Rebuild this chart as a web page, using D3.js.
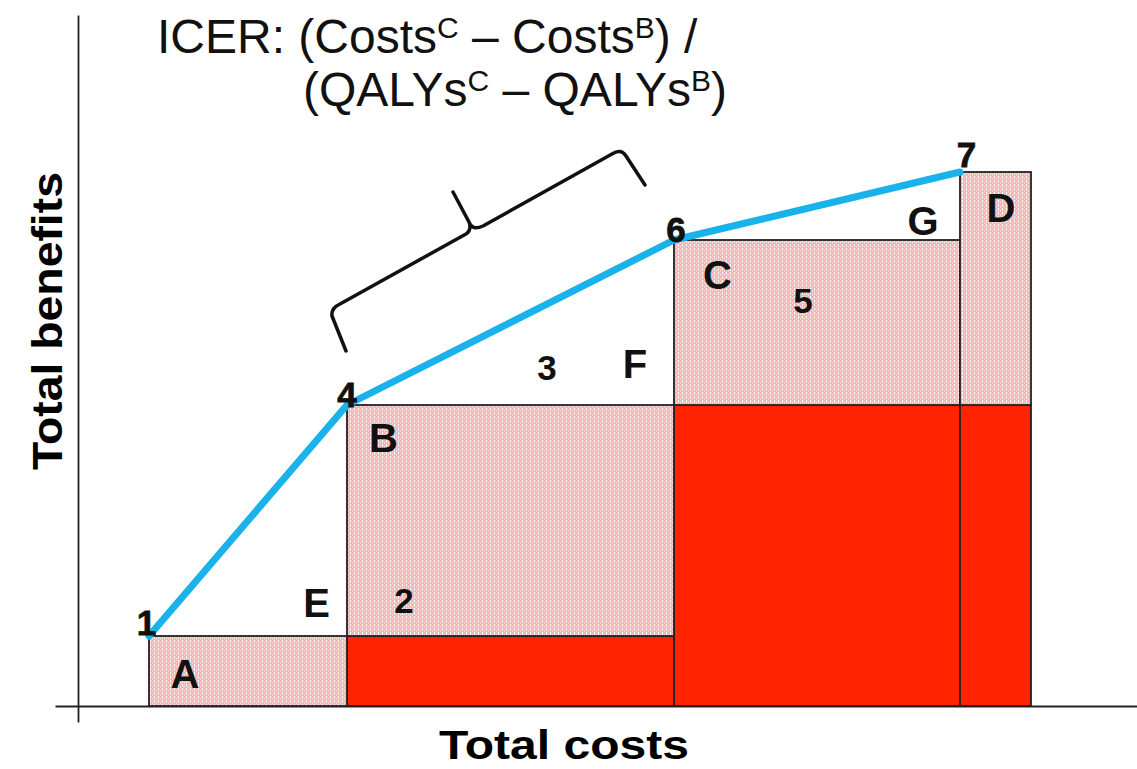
<!DOCTYPE html>
<html><head><meta charset="utf-8">
<script src="https://cdn.jsdelivr.net/npm/d3@7"></script>
<style>
body{margin:0;background:#fff}
svg{display:block}
text{font-family:Arial,"Liberation Sans",Helvetica,sans-serif}
</style>
</head><body><div id="chart"></div>
<script>
// ---- data (arbitrary cost / benefit units) ----
const frontierLabels = ["1", "4", "6", "7"];
const frontierCost = [7.1, 26.9, 59.6, 88.2];
const frontierBenefit = [7.0, 30.1, 46.6, 53.4];

const barStart = [7.1, 26.9, 59.6, 88.2];
const barEnd = [26.9, 59.6, 88.2, 95.3];
const barRedTop = [0, 7.0, 30.1, 30.1];
const barPinkTop = [7.0, 30.1, 46.6, 53.4];

const frontierLabelCost = [6.85, 26.9, 59.8, 88.85];
const frontierLabelBenefit = [7.1, 29.9, 46.4, 53.9];

const regionLabels = ["A", "E", "2", "B", "3", "F", "C", "5", "G", "D"];
const regionCost = [10.7, 23.85, 32.6, 30.55, 46.9, 55.7, 63.95, 72.5, 84.5, 92.3];
const regionBenefit = [1.8, 8.9, 9.3, 25.4, 32.6, 32.8, 41.7, 39.3, 47.1, 48.4];

const bracketPts = [
  [26.8, 35.5], [25.4, 39.0], [25.3, 39.8], [26.2, 40.2], [38.8, 47.2],
  [39.4, 47.6], [39.1, 48.4], [37.5, 51.4],
  [39.4, 47.5], [40.5, 48.0], [53.4, 55.2], [54.3, 55.8], [54.8, 55.0], [56.7, 52.1]
];

const xTitle = "Total costs";
const yTitle = "Total benefits";

// ---- layout ----
const W = 1137, H = 769;
const x = d3.scaleLinear().domain([0, 105.9]).range([78, 1137]);
const y = d3.scaleLinear().domain([0, 69.1]).range([706, 15]);

const svg = d3.select("#chart").append("svg").attr("width", W).attr("height", H);

const defs = svg.append("defs");
const pat = defs.append("pattern").attr("id", "hatch").attr("patternUnits", "userSpaceOnUse")
  .attr("width", 4).attr("height", 4);
pat.append("rect").attr("width", 4).attr("height", 4).attr("fill", "#f9b2b6");
pat.append("rect").attr("x", 2).attr("y", 0).attr("width", 1).attr("height", 2.5).attr("fill", "#ffffff");
pat.append("rect").attr("x", 0).attr("y", 2).attr("width", 1).attr("height", 1.5).attr("fill", "#fde0e2");

// axes (lines only)
const xAxisScale = d3.scaleLinear().domain([-2.3, 105.9]).range([x(-2.3), x(105.9)]);
const yAxisScale = d3.scaleLinear().domain([-1.6, 69.1]).range([y(-1.6), y(69.1)]);
svg.append("g").attr("transform", `translate(0,${y(0)})`)
  .call(d3.axisBottom(xAxisScale).tickValues([]).tickSizeOuter(0))
  .select(".domain").attr("stroke", "#222").attr("stroke-width", 1.8);
svg.append("g").attr("transform", `translate(${x(0)},0)`)
  .call(d3.axisLeft(yAxisScale).tickValues([]).tickSizeOuter(0))
  .select(".domain").attr("stroke", "#222").attr("stroke-width", 1.8);

// bars
const idx = d3.range(barStart.length);
svg.append("g").selectAll("rect.red").data(idx.filter(i => barRedTop[i] > 0)).join("rect")
  .attr("x", i => x(barStart[i])).attr("width", i => x(barEnd[i]) - x(barStart[i]))
  .attr("y", i => y(barRedTop[i])).attr("height", i => y(0) - y(barRedTop[i]))
  .attr("fill", "#ff2300").attr("stroke", "#222").attr("stroke-width", 1.8);
svg.append("g").selectAll("rect.pink").data(idx).join("rect")
  .attr("x", i => x(barStart[i])).attr("width", i => x(barEnd[i]) - x(barStart[i]))
  .attr("y", i => y(barPinkTop[i])).attr("height", i => y(barRedTop[i]) - y(barPinkTop[i]))
  .attr("fill", "url(#hatch)").attr("stroke", "#222").attr("stroke-width", 1.8);

// frontier line
const line = d3.line().x(i => x(frontierCost[i])).y(i => y(frontierBenefit[i]));
svg.append("path").attr("d", line(d3.range(frontierCost.length)))
  .attr("fill", "none").attr("stroke", "#1ab2ea").attr("stroke-width", 7)
  .attr("stroke-linejoin", "round").attr("stroke-linecap", "round");

// frontier labels
svg.append("g").selectAll("text").data(d3.range(frontierLabels.length)).join("text")
  .attr("x", i => x(frontierLabelCost[i])).attr("y", i => y(frontierLabelBenefit[i]))
  .attr("text-anchor", "middle").attr("font-weight", "bold").attr("font-size", 35)
  .attr("fill", "#111").attr("stroke", "#111").attr("stroke-width", 0.8)
  .text(i => frontierLabels[i]);

// region labels
svg.append("g").selectAll("text").data(d3.range(regionLabels.length)).join("text")
  .attr("x", i => x(regionCost[i])).attr("y", i => y(regionBenefit[i]))
  .attr("text-anchor", "middle").attr("font-weight", "bold")
  .attr("font-size", i => /\d/.test(regionLabels[i]) ? 35 : 40)
  .attr("fill", "#111").text(i => regionLabels[i]);

// bracket
const P = bracketPts.map(p => [x(p[0]), y(p[1])]);
const bp = d3.path();
bp.moveTo(...P[0]); bp.lineTo(...P[1]); bp.quadraticCurveTo(...P[2], ...P[3]);
bp.lineTo(...P[4]); bp.quadraticCurveTo(...P[5], ...P[6]); bp.lineTo(...P[7]);
bp.moveTo(...P[6]); bp.quadraticCurveTo(...P[8], ...P[9]); bp.lineTo(...P[10]);
bp.quadraticCurveTo(...P[11], ...P[12]); bp.lineTo(...P[13]);
svg.append("path").attr("d", bp.toString()).attr("fill", "none")
  .attr("stroke", "#111").attr("stroke-width", 3.5).attr("stroke-linejoin", "round").attr("stroke-linecap", "round");

// ICER formula
function formula(tx, ty, parts) {
  const t = svg.append("text").attr("x", tx).attr("y", ty).attr("font-size", 48).attr("fill", "#111");
  let shift = 0;
  parts.forEach(p => {
    const s = t.append("tspan").text(p.t);
    if (p.sup) { s.attr("font-size", 30).attr("dy", -15 - shift); shift = -15; }
    else { s.attr("dy", -shift); shift = 0; }
  });
}
formula(157, 53, [{t: "ICER: (Costs"}, {t: "C", sup: true}, {t: " \u2013 Costs"}, {t: "B", sup: true}, {t: ") /"}]);
formula(303, 106, [{t: "(QALYs"}, {t: "C", sup: true}, {t: " \u2013 QALYs"}, {t: "B", sup: true}, {t: ")"}]);

// axis titles
svg.append("text").attr("x", 564).attr("y", 759).attr("text-anchor", "middle")
  .attr("font-weight", "bold").attr("font-size", 40).attr("textLength", 250)
  .attr("lengthAdjust", "spacingAndGlyphs").attr("fill", "#000").text(xTitle);
svg.append("text").attr("transform", "translate(62,321) rotate(-90)").attr("text-anchor", "middle")
  .attr("font-weight", "bold").attr("font-size", 43).attr("textLength", 298)
  .attr("lengthAdjust", "spacingAndGlyphs").attr("fill", "#000").text(yTitle);
</script>
</body></html>
